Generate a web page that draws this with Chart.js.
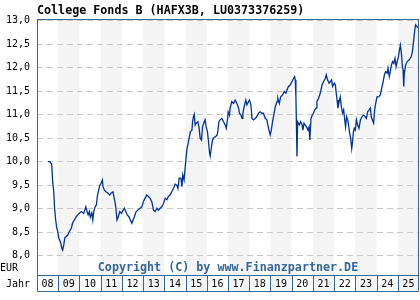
<!DOCTYPE html>
<html>
<head>
<meta charset="utf-8">
<script src="https://cdn.jsdelivr.net/npm/chart.js@4"></script>
<style>
  html, body { margin: 0; padding: 0; background: #fff; }
  canvas { display: block; }
</style>
</head>
<body>
<canvas id="chart" width="420" height="300"></canvas>
<script>
const TITLE = 'College Fonds B (HAFX3B, LU0373376259)';
const COPYRIGHT = 'Copyright (C) by www.Finanzpartner.DE';
const UNIT_LABEL = 'EUR';
const YEAR_LABEL = 'Jahr';

const years = [2008, 2009, 2010, 2011, 2012, 2013, 2014, 2015, 2016, 2017, 2018, 2019, 2020, 2021, 2022, 2023, 2024, 2025];
const yTicks = [8.0, 8.5, 9.0, 9.5, 10.0, 10.5, 11.0, 11.5, 12.0, 12.5, 13.0];

// decimal years
const dates = [
  2008.52, 2008.61, 2008.69, 2008.74, 2008.79, 2008.83, 2008.88, 2008.93, 2008.98, 2009.02,
  2009.07, 2009.12, 2009.17, 2009.21, 2009.26, 2009.31, 2009.35, 2009.45, 2009.52, 2009.62,
  2009.68, 2009.76, 2009.85, 2009.92, 2010.01, 2010.09, 2010.20, 2010.30, 2010.36, 2010.41,
  2010.47, 2010.51, 2010.58, 2010.63, 2010.67, 2010.74, 2010.80, 2010.84, 2010.91, 2010.96,
  2011.02, 2011.08, 2011.11, 2011.17, 2011.25, 2011.35, 2011.43, 2011.49, 2011.58, 2011.62,
  2011.67, 2011.71, 2011.77, 2011.83, 2011.90, 2011.98, 2012.06, 2012.12, 2012.18, 2012.25,
  2012.33, 2012.40, 2012.47, 2012.53, 2012.59, 2012.67, 2012.94, 2013.01, 2013.09, 2013.17,
  2013.25, 2013.33, 2013.41, 2013.49, 2013.57, 2013.65, 2013.72, 2013.80, 2013.88, 2013.96,
  2014.04, 2014.12, 2014.19, 2014.27, 2014.35, 2014.43, 2014.51, 2014.59, 2014.64, 2014.70,
  2014.78, 2014.83, 2014.87, 2014.93, 2015.00, 2015.06, 2015.12, 2015.18, 2015.23, 2015.30,
  2015.33, 2015.37, 2015.41, 2015.45, 2015.50, 2015.58, 2015.63, 2015.69, 2015.75, 2015.80,
  2015.88, 2015.92, 2015.97, 2016.03, 2016.08, 2016.13, 2016.16, 2016.21, 2016.27, 2016.32,
  2016.40, 2016.48, 2016.52, 2016.57, 2016.63, 2016.71, 2016.79, 2016.87, 2016.92, 2016.98,
  2017.01, 2017.07, 2017.10, 2017.18, 2017.26, 2017.34, 2017.42, 2017.50, 2017.54, 2017.61,
  2017.66, 2017.70, 2017.76, 2017.84, 2017.89, 2017.97, 2018.01, 2018.08, 2018.13, 2018.20,
  2018.28, 2018.36, 2018.44, 2018.52, 2018.60, 2018.67, 2018.75, 2018.83, 2018.91, 2018.99,
  2019.04, 2019.10, 2019.17, 2019.23, 2019.31, 2019.35, 2019.42, 2019.48, 2019.57, 2019.65,
  2019.73, 2019.78, 2019.85, 2019.93, 2020.01, 2020.09, 2020.14, 2020.17, 2020.20, 2020.22,
  2020.25, 2020.28, 2020.36, 2020.42, 2020.49, 2020.53, 2020.58, 2020.64, 2020.70, 2020.77,
  2020.82, 2020.86, 2020.91, 2020.97, 2021.03, 2021.08, 2021.15, 2021.19, 2021.27, 2021.35,
  2021.43, 2021.50, 2021.58, 2021.63, 2021.69, 2021.76, 2021.82, 2021.88, 2021.93, 2022.01,
  2022.06, 2022.10, 2022.14, 2022.18, 2022.25, 2022.29, 2022.34, 2022.40, 2022.45, 2022.50,
  2022.54, 2022.59, 2022.64, 2022.68, 2022.73, 2022.78, 2022.83, 2022.87, 2022.91, 2022.95,
  2023.00, 2023.05, 2023.11, 2023.17, 2023.24, 2023.32, 2023.39, 2023.46, 2023.52, 2023.58,
  2023.65, 2023.71, 2023.75, 2023.80, 2023.86, 2023.91, 2023.96, 2024.02, 2024.10, 2024.18,
  2024.24, 2024.31, 2024.37, 2024.43, 2024.50, 2024.54, 2024.60, 2024.65, 2024.70, 2024.76,
  2024.81, 2024.87, 2024.92, 2024.97, 2025.03, 2025.08, 2025.12, 2025.17, 2025.22, 2025.25,
  2025.28, 2025.31, 2025.37, 2025.44, 2025.53, 2025.63, 2025.69, 2025.75, 2025.80, 2025.84,
  2025.91, 2025.97, 2026.00
];

const prices = [
  10.00, 10.00, 9.95, 9.57, 9.36, 9.00, 8.76, 8.59, 8.51, 8.38,
  8.33, 8.27, 8.16, 8.12, 8.23, 8.38, 8.40, 8.44, 8.51, 8.59,
  8.70, 8.76, 8.83, 8.87, 8.91, 8.94, 8.90, 9.04, 8.94, 8.87,
  8.94, 8.82, 8.91, 8.76, 8.94, 9.04, 9.08, 9.26, 9.40, 9.50,
  9.54, 9.61, 9.47, 9.40, 9.36, 9.33, 9.29, 9.33, 9.36, 9.26,
  9.15, 9.04, 8.76, 8.83, 8.94, 8.90, 8.97, 9.01, 8.94, 8.87,
  8.83, 8.76, 8.69, 8.76, 8.83, 8.94, 9.04, 9.15, 9.22, 9.29,
  9.26, 9.22, 9.15, 8.97, 8.94, 9.01, 8.97, 9.01, 9.04, 9.11,
  9.22, 9.19, 9.26, 9.29, 9.36, 9.43, 9.52, 9.50, 9.43, 9.65,
  9.65, 9.47, 9.72, 9.61, 9.97, 10.25, 10.39, 10.53, 10.64, 10.67,
  10.85, 10.96, 11.01, 10.78, 10.82, 10.85, 10.74, 10.50, 10.46, 10.74,
  10.85, 10.89, 10.74, 10.64, 10.43, 10.18, 10.12, 10.28, 10.46, 10.50,
  10.53, 10.56, 10.64, 10.85, 10.89, 10.92, 10.85, 10.78, 10.71, 10.92,
  11.06, 10.99, 11.14, 11.28, 11.24, 11.31, 11.24, 11.14, 11.03, 10.99,
  10.92, 11.03, 11.17, 11.31, 11.21, 11.28, 11.31, 11.21, 10.92, 10.89,
  10.92, 10.96, 11.03, 11.06, 11.03, 11.03, 10.92, 10.89, 10.71, 10.57,
  10.67, 10.85, 11.03, 11.17, 11.28, 11.35, 11.24, 11.38, 11.42, 11.49,
  11.46, 11.53, 11.60, 11.63, 11.70, 11.77, 11.81, 11.74, 11.38, 10.89,
  10.11, 10.85, 10.78, 10.85, 10.78, 10.67, 10.82, 10.78, 10.74, 10.67,
  10.74, 10.46, 10.92, 10.99, 11.03, 11.10, 11.14, 11.28, 11.35, 11.46,
  11.63, 11.70, 11.77, 11.85, 11.74, 11.67, 11.70, 11.74, 11.60, 11.67,
  11.63, 11.46, 11.31, 11.14, 11.31, 11.38, 11.17, 11.03, 11.10, 10.89,
  10.74, 10.96, 10.89, 10.78, 10.61, 10.50, 10.28, 10.43, 10.64, 10.71,
  10.67, 10.89, 10.78, 10.71, 10.89, 10.96, 10.99, 10.96, 10.92, 11.06,
  11.10, 11.14, 10.96, 10.89, 10.82, 11.10, 11.24, 11.38, 11.38, 11.42,
  11.56, 11.70, 11.85, 11.92, 11.88, 11.99, 11.81, 11.92, 12.06, 12.13,
  12.09, 12.20, 12.02, 12.13, 12.23, 12.38, 12.48, 12.31, 12.02, 11.95,
  11.60, 11.88, 12.06, 12.13, 12.16, 12.23, 12.34, 12.59, 12.80, 12.91,
  12.87, 12.84, 12.82
];

const MONO = '"DejaVu Sans Mono", "Liberation Mono", monospace';
const FRAME = '#336699';
const LINE = '#003399';

function formatValue(v) {
  return v.toFixed(1).replace('.', ',');
}

const decorations = {
  id: 'decorations',
  beforeDraw(chart) {
    const { ctx, chartArea: area, scales: { x } } = chart;
    ctx.save();
    ctx.fillStyle = '#fff';
    ctx.fillRect(0, 0, chart.width, chart.height);
    // alternate year bands
    ctx.fillStyle = '#f4f4f4';
    years.forEach((yr, i) => {
      if (i % 2 === 1) {
        const x0 = x.getPixelForValue(yr);
        const x1 = x.getPixelForValue(yr + 1);
        ctx.fillRect(x0, area.top, x1 - x0, chart.height - 8 - area.top);
      }
    });
    ctx.restore();
  },
  afterDraw(chart) {
    const { ctx, chartArea: area, scales: { x } } = chart;
    ctx.save();
    ctx.strokeStyle = FRAME;
    ctx.lineWidth = 1;
    ctx.strokeRect(area.left + 0.5, area.top + 0.5, area.right - area.left - 1, area.bottom - area.top);

    // year boxes under the plot
    const boxTop = area.bottom + 0.5;
    const boxBottom = chart.height - 8.5;
    ctx.beginPath();
    ctx.moveTo(area.left + 0.5, boxBottom);
    ctx.lineTo(area.right - 0.5, boxBottom);
    years.concat([years[years.length - 1] + 1]).forEach((yr) => {
      const px = Math.min(Math.round(x.getPixelForValue(yr)) + 0.5, area.right - 0.5);
      ctx.moveTo(px, boxTop);
      ctx.lineTo(px, boxBottom);
    });
    ctx.stroke();

    ctx.fillStyle = '#000';
    ctx.font = `bold 11.7px ${MONO}`;
    ctx.textBaseline = 'alphabetic';
    ctx.textAlign = 'left';
    ctx.fillText(TITLE, area.left, 14);

    ctx.font = `10px ${MONO}`;
    ctx.textBaseline = 'middle';
    ctx.fillText(UNIT_LABEL, 0, 268);
    ctx.textAlign = 'right';
    ctx.fillText(YEAR_LABEL, 30, 284);

    ctx.fillStyle = FRAME;
    ctx.font = `bold 11.7px ${MONO}`;
    ctx.textAlign = 'center';
    ctx.fillText(COPYRIGHT, (area.left + area.right) / 2, 268);
    ctx.restore();
  },
};

new Chart(document.getElementById('chart'), {
  type: 'line',
  data: {
    datasets: [{
      data: dates.map((d, i) => ({ x: d, y: prices[i] })),
      borderColor: LINE,
      borderWidth: 1.3,
      pointRadius: 0,
      tension: 0,
      fill: false,
    }],
  },
  options: {
    responsive: false,
    animation: false,
    devicePixelRatio: 1,
    layout: { padding: { top: 19, right: 1, left: 0, bottom: 0 } },
    plugins: { legend: { display: false }, tooltip: { enabled: false } },
    scales: {
      x: {
        type: 'linear',
        min: years[0],
        max: years[years.length - 1] + 1,
        afterBuildTicks(scale) {
          scale.ticks = years.map((yr) => ({ value: yr + 0.5 }));
        },
        afterFit(scale) { scale.height = 25; },
        grid: { display: false, drawTicks: false, tickLength: 0 },
        border: { display: false },
        ticks: {
          autoSkip: false,
          maxRotation: 0,
          padding: 3,
          color: '#000',
          font: { family: MONO, size: 10 },
          callback: (v) => String(Math.floor(v)).slice(2),
        },
      },
      y: {
        min: 7.59,
        max: 13.035,
        afterBuildTicks(scale) {
          scale.ticks = yTicks.map((v) => ({ value: v }));
        },
        afterFit(scale) { scale.width = 37; },
        grid: { color: '#c8c8c8', drawTicks: false },
        border: { display: false, dash: [6, 4] },
        ticks: {
          padding: 7,
          color: '#000',
          font: { family: MONO, size: 10 },
          callback: (v) => formatValue(v),
        },
      },
    },
  },
  plugins: [decorations],
});
</script>
</body>
</html>
